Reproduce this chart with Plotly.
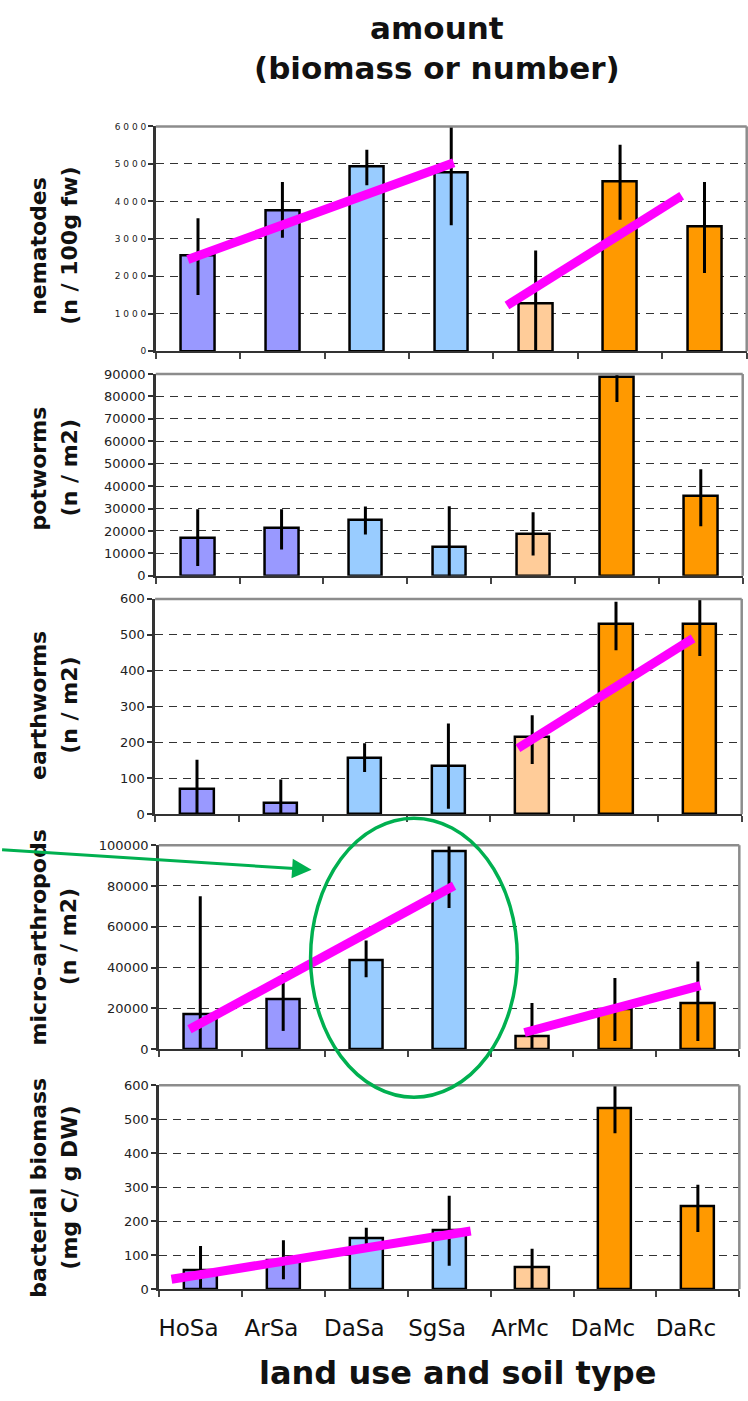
import plotly.graph_objects as go

W, H = 748, 1401

categories = ["HoSa", "ArSa", "DaSa", "SgSa", "ArMc", "DaMc", "DaRc"]
bar_colors = ["#9999ff", "#9999ff", "#99ccff", "#99ccff", "#ffcc99", "#ff9900", "#ff9900"]

# nematodes (n / 100g fw)
nem = [2550, 3750, 4930, 4780, 1270, 4520, 3320]
nem_plus = [1000, 770, 445, 1400, 1420, 990, 1200]
nem_minus = [1050, 720, 497, 1420, 1270, 1010, 1230]
nem_tr1_x, nem_tr1_y = [-0.12, 3.03], [2450, 5030]
nem_tr2_x, nem_tr2_y = [3.66, 5.73], [1220, 4150]

# potworms (n / m2)
pot = [16800, 21300, 24700, 13000, 18800, 88700, 35500]
pot_plus = [12900, 8400, 6200, 18000, 9600, 3800, 12000]
pot_minus = [12400, 9500, 6300, 13000, 9700, 11200, 13400]

# earthworms (n / m2)
ew = [72, 32, 157, 135, 215, 531, 531]
ew_plus = [80, 65, 41, 118, 61, 61, 78]
ew_minus = [72, 32, 39, 120, 75, 74, 90]
ew_tr_x, ew_tr_y = [3.83, 5.92], [184, 490]

# micro-arthropods (n / m2)
ma = [17000, 24300, 43700, 97100, 6500, 19700, 22600]
ma_plus = [58000, 13000, 9500, 5300, 16100, 15100, 20300]
ma_minus = [17000, 15400, 8500, 27900, 6500, 15800, 18700]
ma_tr1_x, ma_tr1_y = [-0.13, 3.06], [9700, 80100]
ma_tr2_x, ma_tr2_y = [3.91, 6.03], [8100, 31100]

# bacterial biomass (mg C / g DW)
bb = [56, 86, 150, 173, 63, 532, 243]
bb_plus = [71, 58, 31, 102, 56, 71, 64]
bb_minus = [56, 57, 30, 104, 63, 73, 75]
bb_tr_x, bb_tr_y = [-0.35, 3.26], [29, 171]

y_ranges = [6000, 90000, 600, 100000, 600]
y_dticks = [1000, 10000, 100, 20000, 100]
y_titles = [("nematodes", "(n / 100g fw)"), ("potworms", "(n / m2)"),
            ("earthworms", "(n / m2)"), ("micro-arthropods", "(n / m2)"),
            ("bacterial biomass", "(mg C/ g DW)")]
panel1_ticktext = ["0", "1 0 0 0", "2 0 0 0", "3 0 0 0", "4 0 0 0", "5 0 0 0", "6 0 0 0"]

# pixel boxes of panels: (left, right, top, bottom)
boxes = [(155, 746.7, 120.7, 348), (155, 742.7, 371, 575), (154.3, 741.7, 598.3, 816),
         (158, 739.3, 847.3, 1053.3), (158.3, 739.3, 1090, 1296)]
ytitle_centers = [241, 466, 706, 940, 1193]

def fx(p):
    return p / W

def fy(p):
    return 1 - p / H

FONT = "DejaVu Sans"
MAGENTA = "#ff00ff"
GREEN = "#00b050"

panels = [
    (nem, nem_plus, nem_minus, [(nem_tr1_x, nem_tr1_y), (nem_tr2_x, nem_tr2_y)]),
    (pot, pot_plus, pot_minus, []),
    (ew, ew_plus, ew_minus, [(ew_tr_x, ew_tr_y)]),
    (ma, ma_plus, ma_minus, [(ma_tr1_x, ma_tr1_y), (ma_tr2_x, ma_tr2_y)]),
    (bb, bb_plus, bb_minus, [(bb_tr_x, bb_tr_y)]),
]

fig = go.Figure()
layout = dict(width=W, height=H, margin=dict(l=0, r=0, t=0, b=0),
              paper_bgcolor="white", plot_bgcolor="white", showlegend=False,
              font=dict(family=FONT, color="#111"), bargap=0)
shapes = []
annotations = []

xpos = list(range(len(categories)))

for i, (vals, plus, minus, trends) in enumerate(panels):
    n = i + 1
    xa = "x" if n == 1 else f"x{n}"
    ya = "y" if n == 1 else f"y{n}"
    fig.add_trace(go.Bar(
        x=xpos, y=vals, xaxis=xa, yaxis=ya, width=0.4,
        marker=dict(color=bar_colors, line=dict(color="black", width=2.5)),
        error_y=dict(type="data", symmetric=False, array=plus, arrayminus=minus,
                     color="black", thickness=3, width=0),
        cliponaxis=False, hoverinfo="skip"))
    for tx, ty in trends:
        fig.add_trace(go.Scatter(x=tx, y=ty, xaxis=xa, yaxis=ya, mode="lines",
                                 line=dict(color=MAGENTA, width=9), cliponaxis=False,
                                 hoverinfo="skip"))
    l, r, t, b = boxes[i]
    xkey = "xaxis" if n == 1 else f"xaxis{n}"
    ykey = "yaxis" if n == 1 else f"yaxis{n}"
    layout[xkey] = dict(
        domain=[fx(l), fx(r)], anchor=ya, range=[-0.5, 6.5],
        tickmode="array", tickvals=xpos, ticktext=categories,
        showticklabels=(n == 5), ticks="",
        tickfont=dict(family=FONT, size=23, color="#111"),
        ticklabelstandoff=17, ticklabelshift=-12,
        showline=True, linecolor="#333", linewidth=2, showgrid=False, zeroline=False,
        minor=dict(ticks="outside", ticklen=6, tickwidth=1.5, tickcolor="#444",
                   tickmode="linear", tick0=-0.5, dtick=1, showgrid=False),
    )
    ydict = dict(
        domain=[fy(b), fy(t)], anchor=xa, range=[0, y_ranges[i]],
        tickmode="linear", tick0=0, dtick=y_dticks[i],
        exponentformat="none", separatethousands=False, tickformat="d",
        ticks="outside", ticklen=5, tickwidth=1.5, tickcolor="#333",
        tickfont=dict(family=FONT, size=13, color="#222"),
        showline=True, linecolor="#333", linewidth=2.5,
        showgrid=True, gridcolor="#333", gridwidth=1.2, griddash="8px,6px",
        zeroline=False,
    )
    if n == 1:
        ydict.update(tickmode="array", tickvals=[k * 1000 for k in range(7)],
                     ticktext=panel1_ticktext, tickfont=dict(family=FONT, size=9, color="#222"))
    layout[ykey] = ydict
    # gray top & right border
    shapes.append(dict(type="line", xref=f"{xa} domain", yref=f"{ya} domain",
                       x0=0, x1=1, y0=1, y1=1, line=dict(color="#8c8c8c", width=2.5), layer="above"))
    shapes.append(dict(type="line", xref=f"{xa} domain", yref=f"{ya} domain",
                       x0=1, x1=1, y0=0, y1=1, line=dict(color="#8c8c8c", width=2.5), layer="above"))
    # y titles (two lines)
    t1, t2 = y_titles[i]
    for txt, cx in ((t1, 37.5), (t2, 68.5)):
        annotations.append(dict(text=f"<b>{txt}</b>", xref="paper", yref="paper",
                                x=fx(cx), y=fy(ytitle_centers[i]), xanchor="center", yanchor="middle",
                                textangle=-90, showarrow=False,
                                font=dict(family=FONT, size=22, color="#111")))

# chart title and x-axis title
annotations.append(dict(text="<b>amount<br>(biomass or number)</b>", xref="paper", yref="paper",
                        x=fx(437), y=fy(41), xanchor="center", yanchor="middle", showarrow=False,
                        font=dict(family=FONT, size=31, color="#111")))
annotations.append(dict(text="<b>land use and soil type</b>", xref="paper", yref="paper",
                        x=fx(457), y=fy(1381), xanchor="center", yanchor="middle", showarrow=False,
                        font=dict(family=FONT, size=32, color="#111")))

# green highlight ellipse and arrow
shapes.append(dict(type="circle", xref="paper", yref="paper",
                   x0=fx(310), x1=fx(517), y0=fy(1102), y1=fy(820),
                   line=dict(color=GREEN, width=3.5), layer="above"))
annotations.append(dict(text="", xref="paper", yref="paper", x=fx(311), y=fy(872),
                        ax=-311, ay=-20, showarrow=True, arrowhead=2, arrowsize=1.3,
                        arrowwidth=3, arrowcolor=GREEN, standoff=0))

layout["shapes"] = shapes
layout["annotations"] = annotations
fig.update_layout(**layout)

fig.write_html("out.html")
